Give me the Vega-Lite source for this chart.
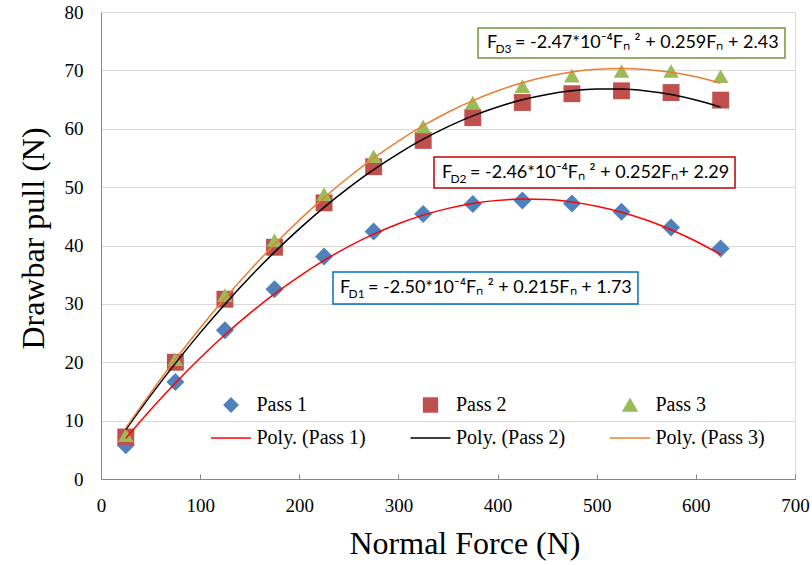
{
  "$schema": "https://vega.github.io/schema/vega-lite/v6.json",
  "width": 694,
  "height": 467,
  "autosize": {"type": "none"},
  "padding": {"left": 101, "top": 12, "right": 17, "bottom": 86},
  "background": "white",
  "config": {
    "view": {"stroke": "#D9D9D9", "strokeWidth": 1},
    "axis": {
      "labelFont": "Liberation Serif",
      "labelFontSize": 19,
      "labelColor": "#000000",
      "labelFlush": false,
      "titleFont": "Liberation Serif",
      "titleFontSize": 32,
      "titleFontWeight": "normal",
      "titleColor": "#000000",
      "domainColor": "#868686",
      "domainWidth": 1,
      "tickColor": "#868686",
      "gridColor": "#D9D9D9",
      "gridWidth": 1
    }
  },
  "datasets": {
    "points": [
      {"x": 25, "y": 5.8, "series": "Pass 1"},
      {"x": 75, "y": 16.6, "series": "Pass 1"},
      {"x": 125, "y": 25.5, "series": "Pass 1"},
      {"x": 175, "y": 32.5, "series": "Pass 1"},
      {"x": 225, "y": 38.1, "series": "Pass 1"},
      {"x": 275, "y": 42.4, "series": "Pass 1"},
      {"x": 325, "y": 45.4, "series": "Pass 1"},
      {"x": 375, "y": 47.1, "series": "Pass 1"},
      {"x": 425, "y": 47.7, "series": "Pass 1"},
      {"x": 475, "y": 47.2, "series": "Pass 1"},
      {"x": 525, "y": 45.8, "series": "Pass 1"},
      {"x": 575, "y": 43.1, "series": "Pass 1"},
      {"x": 625, "y": 39.5, "series": "Pass 1"},
      {"x": 25, "y": 7.2, "series": "Pass 2"},
      {"x": 75, "y": 20.0, "series": "Pass 2"},
      {"x": 125, "y": 30.8, "series": "Pass 2"},
      {"x": 175, "y": 39.7, "series": "Pass 2"},
      {"x": 225, "y": 47.3, "series": "Pass 2"},
      {"x": 275, "y": 53.5, "series": "Pass 2"},
      {"x": 325, "y": 58.0, "series": "Pass 2"},
      {"x": 375, "y": 61.9, "series": "Pass 2"},
      {"x": 425, "y": 64.5, "series": "Pass 2"},
      {"x": 475, "y": 66.0, "series": "Pass 2"},
      {"x": 525, "y": 66.5, "series": "Pass 2"},
      {"x": 575, "y": 66.2, "series": "Pass 2"},
      {"x": 625, "y": 64.9, "series": "Pass 2"},
      {"x": 25, "y": 7.5, "series": "Pass 3"},
      {"x": 75, "y": 20.5, "series": "Pass 3"},
      {"x": 125, "y": 31.5, "series": "Pass 3"},
      {"x": 175, "y": 40.9, "series": "Pass 3"},
      {"x": 225, "y": 48.8, "series": "Pass 3"},
      {"x": 275, "y": 55.3, "series": "Pass 3"},
      {"x": 325, "y": 60.4, "series": "Pass 3"},
      {"x": 375, "y": 64.5, "series": "Pass 3"},
      {"x": 425, "y": 67.3, "series": "Pass 3"},
      {"x": 475, "y": 69.1, "series": "Pass 3"},
      {"x": 525, "y": 69.9, "series": "Pass 3"},
      {"x": 575, "y": 69.9, "series": "Pass 3"},
      {"x": 625, "y": 69.0, "series": "Pass 3"}
    ],
    "trend": [
      {"x": 25, "y": 6.95, "series": "Poly. (Pass 1)"},
      {"x": 50, "y": 11.86, "series": "Poly. (Pass 1)"},
      {"x": 75, "y": 16.45, "series": "Poly. (Pass 1)"},
      {"x": 100, "y": 20.73, "series": "Poly. (Pass 1)"},
      {"x": 125, "y": 24.70, "series": "Poly. (Pass 1)"},
      {"x": 150, "y": 28.36, "series": "Poly. (Pass 1)"},
      {"x": 175, "y": 31.70, "series": "Poly. (Pass 1)"},
      {"x": 200, "y": 34.73, "series": "Poly. (Pass 1)"},
      {"x": 225, "y": 37.45, "series": "Poly. (Pass 1)"},
      {"x": 250, "y": 39.86, "series": "Poly. (Pass 1)"},
      {"x": 275, "y": 41.95, "series": "Poly. (Pass 1)"},
      {"x": 300, "y": 43.73, "series": "Poly. (Pass 1)"},
      {"x": 325, "y": 45.20, "series": "Poly. (Pass 1)"},
      {"x": 350, "y": 46.36, "series": "Poly. (Pass 1)"},
      {"x": 375, "y": 47.20, "series": "Poly. (Pass 1)"},
      {"x": 400, "y": 47.73, "series": "Poly. (Pass 1)"},
      {"x": 425, "y": 47.95, "series": "Poly. (Pass 1)"},
      {"x": 450, "y": 47.86, "series": "Poly. (Pass 1)"},
      {"x": 475, "y": 47.45, "series": "Poly. (Pass 1)"},
      {"x": 500, "y": 46.73, "series": "Poly. (Pass 1)"},
      {"x": 525, "y": 45.70, "series": "Poly. (Pass 1)"},
      {"x": 550, "y": 44.36, "series": "Poly. (Pass 1)"},
      {"x": 575, "y": 42.70, "series": "Poly. (Pass 1)"},
      {"x": 600, "y": 40.73, "series": "Poly. (Pass 1)"},
      {"x": 625, "y": 38.45, "series": "Poly. (Pass 1)"},
      {"x": 25, "y": 8.44, "series": "Poly. (Pass 2)"},
      {"x": 50, "y": 14.28, "series": "Poly. (Pass 2)"},
      {"x": 75, "y": 19.81, "series": "Poly. (Pass 2)"},
      {"x": 100, "y": 25.03, "series": "Poly. (Pass 2)"},
      {"x": 125, "y": 29.95, "series": "Poly. (Pass 2)"},
      {"x": 150, "y": 34.56, "series": "Poly. (Pass 2)"},
      {"x": 175, "y": 38.86, "series": "Poly. (Pass 2)"},
      {"x": 200, "y": 42.85, "series": "Poly. (Pass 2)"},
      {"x": 225, "y": 46.54, "series": "Poly. (Pass 2)"},
      {"x": 250, "y": 49.92, "series": "Poly. (Pass 2)"},
      {"x": 275, "y": 52.99, "series": "Poly. (Pass 2)"},
      {"x": 300, "y": 55.75, "series": "Poly. (Pass 2)"},
      {"x": 325, "y": 58.21, "series": "Poly. (Pass 2)"},
      {"x": 350, "y": 60.36, "series": "Poly. (Pass 2)"},
      {"x": 375, "y": 62.20, "series": "Poly. (Pass 2)"},
      {"x": 400, "y": 63.73, "series": "Poly. (Pass 2)"},
      {"x": 425, "y": 64.96, "series": "Poly. (Pass 2)"},
      {"x": 450, "y": 65.88, "series": "Poly. (Pass 2)"},
      {"x": 475, "y": 66.49, "series": "Poly. (Pass 2)"},
      {"x": 500, "y": 66.79, "series": "Poly. (Pass 2)"},
      {"x": 525, "y": 66.79, "series": "Poly. (Pass 2)"},
      {"x": 550, "y": 66.48, "series": "Poly. (Pass 2)"},
      {"x": 575, "y": 65.86, "series": "Poly. (Pass 2)"},
      {"x": 600, "y": 64.93, "series": "Poly. (Pass 2)"},
      {"x": 625, "y": 63.70, "series": "Poly. (Pass 2)"},
      {"x": 25, "y": 8.75, "series": "Poly. (Pass 3)"},
      {"x": 50, "y": 14.76, "series": "Poly. (Pass 3)"},
      {"x": 75, "y": 20.47, "series": "Poly. (Pass 3)"},
      {"x": 100, "y": 25.86, "series": "Poly. (Pass 3)"},
      {"x": 125, "y": 30.95, "series": "Poly. (Pass 3)"},
      {"x": 150, "y": 35.72, "series": "Poly. (Pass 3)"},
      {"x": 175, "y": 40.19, "series": "Poly. (Pass 3)"},
      {"x": 200, "y": 44.35, "series": "Poly. (Pass 3)"},
      {"x": 225, "y": 48.20, "series": "Poly. (Pass 3)"},
      {"x": 250, "y": 51.74, "series": "Poly. (Pass 3)"},
      {"x": 275, "y": 54.98, "series": "Poly. (Pass 3)"},
      {"x": 300, "y": 57.90, "series": "Poly. (Pass 3)"},
      {"x": 325, "y": 60.52, "series": "Poly. (Pass 3)"},
      {"x": 350, "y": 62.82, "series": "Poly. (Pass 3)"},
      {"x": 375, "y": 64.82, "series": "Poly. (Pass 3)"},
      {"x": 400, "y": 66.51, "series": "Poly. (Pass 3)"},
      {"x": 425, "y": 67.89, "series": "Poly. (Pass 3)"},
      {"x": 450, "y": 68.96, "series": "Poly. (Pass 3)"},
      {"x": 475, "y": 69.73, "series": "Poly. (Pass 3)"},
      {"x": 500, "y": 70.18, "series": "Poly. (Pass 3)"},
      {"x": 525, "y": 70.33, "series": "Poly. (Pass 3)"},
      {"x": 550, "y": 70.16, "series": "Poly. (Pass 3)"},
      {"x": 575, "y": 69.69, "series": "Poly. (Pass 3)"},
      {"x": 600, "y": 68.91, "series": "Poly. (Pass 3)"},
      {"x": 625, "y": 67.82, "series": "Poly. (Pass 3)"}
    ],
    "eqs": [
      {"eq": "D3", "bx1": 380.3, "bx2": 689.9, "by1": 77.26, "by2": 72.12, "tx": 389.3, "ty": 74.7, "lead": "F", "sub": "D3", "rest": "= -2.47*10⁻⁴Fₙ ² + 0.259Fₙ + 2.43"},
      {"eq": "D2", "bx1": 335.9, "bx2": 639.5, "by1": 55.16, "by2": 49.85, "tx": 343.9, "ty": 52.5, "lead": "F", "sub": "D2", "rest": "= -2.46*10⁻⁴Fₙ ² + 0.252Fₙ+ 2.29"},
      {"eq": "D1", "bx1": 234.0, "bx2": 541.6, "by1": 35.46, "by2": 29.98, "tx": 241.1, "ty": 32.7, "lead": "F", "sub": "D1", "rest": "= -2.50*10⁻⁴Fₙ ² + 0.215Fₙ + 1.73"}
    ]
  },
  "layer": [
    {
      "data": {"name": "points"},
      "mark": {"type": "point", "filled": true, "opacity": 1, "strokeWidth": 0},
      "encoding": {
        "x": {
          "field": "x", "type": "quantitative",
          "scale": {"domain": [0, 700], "nice": false, "zero": false},
          "axis": {
            "title": "Normal Force (N)",
            "values": [0, 100, 200, 300, 400, 500, 600, 700],
            "grid": false,
            "tickSize": -5,
            "labelPadding": 22,
            "labelFlush": false,
            "titleX": 363.5,
            "titleY": 74.3,
            "titleBaseline": "alphabetic",
            "titleAlign": "center"
          }
        },
        "y": {
          "field": "y", "type": "quantitative",
          "scale": {"domain": [0, 80], "nice": false},
          "axis": {
            "title": "Drawbar pull (N)",
            "values": [0, 10, 20, 30, 40, 50, 60, 70, 80],
            "grid": true,
            "ticks": false,
            "labelPadding": 18,
            "labelFlush": false,
            "titleX": -58,
            "titleY": 226,
            "titleBaseline": "alphabetic",
            "titleAlign": "center",
            "titleAngle": 270
          }
        },
        "color": {
          "field": "series", "type": "nominal",
          "scale": {
            "domain": ["Pass 1", "Poly. (Pass 1)", "Pass 2", "Poly. (Pass 2)", "Pass 3", "Poly. (Pass 3)"],
            "range": ["#4F81BD", "#FF0000", "#C0504D", "#000000", "#9BBB59", "#ED7D31"]
          },
          "legend": {
            "orient": "none",
            "legendX": 120,
            "legendY": 383,
            "columns": 3,
            "columnPadding": 41.5,
            "rowPadding": 13,
            "padding": 0,
            "title": null,
            "labelFont": "Liberation Serif",
            "labelFontSize": 20,
            "labelColor": "#000000",
            "labelOffset": 15.5,
            "labelLimit": 300,
            "symbolSize": 190,
            "symbolStrokeWidth": 1.5,
            "encode": {
              "symbols": {
                "fill": {"value": {"expr": "scale('color', datum.value)"}},
                "stroke": {"value": {"expr": "scale('color', datum.value)"}},
                "opacity": {"value": 1}
              }
            }
          }
        },
        "shape": {
          "field": "series", "type": "nominal",
          "scale": {
            "domain": ["Pass 1", "Poly. (Pass 1)", "Pass 2", "Poly. (Pass 2)", "Pass 3", "Poly. (Pass 3)"],
            "range": ["diamond", "M-2.9,0H2.9", "square", "M-2.9,0H2.9", "triangle-up", "M-2.9,0H2.9"]
          }
        },
        "size": {
          "field": "series", "type": "nominal",
          "scale": {
            "domain": ["Pass 1", "Pass 2", "Pass 3"],
            "range": [324, 246, 290]
          },
          "legend": null
        }
      }
    },
    {
      "data": {"name": "trend"},
      "mark": {"type": "line", "strokeWidth": 1.5, "interpolate": "monotone"},
      "encoding": {
        "x": {"field": "x", "type": "quantitative"},
        "y": {"field": "y", "type": "quantitative"},
        "color": {"field": "series", "type": "nominal"},
        "order": {"field": "x", "type": "quantitative"}
      }
    },
    {
      "data": {"name": "eqs"},
      "mark": {"type": "rect", "fill": "white", "strokeWidth": 1.5},
      "encoding": {
        "x": {"field": "bx1", "type": "quantitative"},
        "x2": {"field": "bx2"},
        "y": {"field": "by1", "type": "quantitative"},
        "y2": {"field": "by2"},
        "stroke": {
          "field": "eq", "type": "nominal",
          "scale": {"domain": ["D1", "D2", "D3"], "range": ["#0070C0", "#C00000", "#77933C"]},
          "legend": null
        }
      }
    },
    {
      "data": {"name": "eqs"},
      "mark": {"type": "text", "align": "left", "baseline": "middle", "font": "Lato", "fontSize": 18, "color": "#000000"},
      "encoding": {
        "x": {"field": "tx", "type": "quantitative"},
        "y": {"field": "ty", "type": "quantitative"},
        "text": {"field": "lead"}
      }
    },
    {
      "data": {"name": "eqs"},
      "mark": {"type": "text", "align": "left", "baseline": "middle", "font": "Lato", "fontSize": 12, "dx": 8.5, "dy": 6, "color": "#000000"},
      "encoding": {
        "x": {"field": "tx", "type": "quantitative"},
        "y": {"field": "ty", "type": "quantitative"},
        "text": {"field": "sub"}
      }
    },
    {
      "data": {"name": "eqs"},
      "mark": {"type": "text", "align": "left", "baseline": "middle", "font": "Lato", "fontSize": 18, "dx": 28, "color": "#000000"},
      "encoding": {
        "x": {"field": "tx", "type": "quantitative"},
        "y": {"field": "ty", "type": "quantitative"},
        "text": {"field": "rest"}
      }
    }
  ]
}
